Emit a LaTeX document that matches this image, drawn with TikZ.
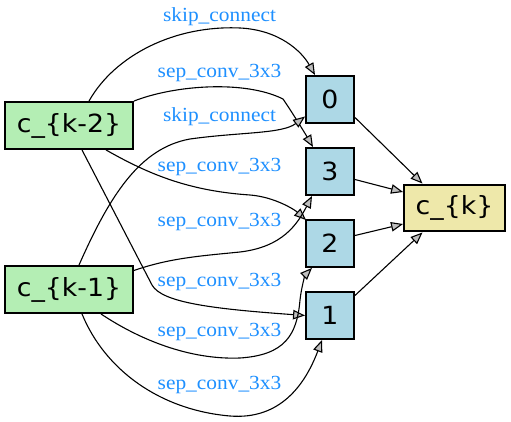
\documentclass[tikz,border=0pt]{standalone}
\usepackage{fontspec}
\setmainfont{Liberation Serif}
\newfontfamily\nodefont{DejaVu Sans}
\usetikzlibrary{arrows.meta}
\definecolor{dgreen}{RGB}{180,238,180}
\definecolor{lblue}{RGB}{173,216,230}
\definecolor{pgold}{RGB}{238,232,170}
\definecolor{dblue}{RGB}{30,144,255}
\definecolor{agray}{RGB}{190,190,190}
\newcommand{\ntxt}[1]{\scalebox{1.07}[1]{#1}}
\newcommand{\ltxt}[1]{\scalebox{1.07}[1]{#1}}
\begin{document}
\begin{tikzpicture}[x=1pt,y=-1pt,
  box/.style={draw=black, line width=2.4pt, inner sep=0pt, minimum height=46.5pt, font=\nodefont\fontsize{25}{25}\selectfont},
  inbox/.style={box, fill=dgreen, minimum width=127.5pt},
  opbox/.style={box, fill=lblue, minimum width=47.5pt},
  outbox/.style={box, fill=pgold, minimum width=100.5pt},
  lbl/.style={text=dblue, font=\fontsize{20}{20}\selectfont, anchor=base, inner sep=0pt},
  edge/.style={line width=1.1pt, -{Triangle[length=12pt,width=9.5pt,fill=agray]}},
]
\fill[white] (0,0) rectangle (511,422);
\useasboundingbox (0,0) rectangle (511,422);

\node[inbox]  (ck2) at (69,125.5) {\ntxt{c\_\{k-2\}}};
\node[inbox]  (ck1) at (69,289.5) {\ntxt{c\_\{k-1\}}};
\node[opbox]  (n0) at (330,99.5) {\ntxt{0}};
\node[opbox]  (n3) at (330,171.5) {\ntxt{3}};
\node[opbox]  (n2) at (330,243.5) {\ntxt{2}};
\node[opbox]  (n1) at (330,315.5) {\ntxt{1}};
\node[outbox] (ck) at (454.5,208) {\ntxt{c\_\{k\}}};

\draw[edge] ([xshift=20pt]ck2.north) .. controls (115,55) and (175,25) .. (240,28) .. controls (280,30) and (302,52) .. ([xshift=-15pt]n0.north);
\draw[edge] (ck2.north east) .. controls (175,85) and (245,80) .. (283,99) .. controls (292,112) and (306,135) .. ([xshift=-17pt]n3.north);
\draw[edge] ([xshift=10pt]ck1.north) .. controls (110,195) and (140,148) .. (190,139) .. controls (240,132) and (282,134) .. ([yshift=-17pt]n0.west);
\draw[edge] ([xshift=37pt]ck2.south) .. controls (150,175) and (190,191) .. (250,195) .. controls (275,197) and (295,210) .. ([xshift=1pt,yshift=-1pt]n2.north west);
\draw[edge] ([yshift=19pt]ck1.east) .. controls (170,258) and (200,256) .. (240,252) .. controls (282,247) and (297,225) .. ([xshift=-18pt]n3.south);
\draw[edge] ([xshift=13pt]ck2.south) -- (152,285) .. controls (162,303) and (215,309) .. (n1.west);
\draw[edge] ([xshift=32pt]ck1.south) .. controls (140,340) and (190,360) .. (240,358) .. controls (285,355) and (297,335) .. (300,300) .. controls (302,283) and (306,274) .. ([xshift=-18pt]n2.south);
\draw[edge] ([xshift=13pt]ck1.south) .. controls (105,370) and (160,410) .. (230,416) .. controls (280,420) and (305,385) .. ([xshift=-8pt]n1.south);

\draw[edge] ([yshift=-18pt]n0.east) -- ([xshift=-32pt]ck.north);
\draw[edge] ([yshift=-8pt]n3.east) -- ([yshift=16pt]ck.west);
\draw[edge] ([yshift=8pt]n2.east) -- ([yshift=-16pt]ck.west);
\draw[edge] ([yshift=20pt]n1.east) -- ([xshift=-32pt]ck.south);

\node[lbl] (l1) at (219.5,22) {\ltxt{skip\_connect}};
\node[lbl] (l2) at (219.5,77.5) {\ltxt{sep\_conv\_3x3}};
\node[lbl] (l3) at (219.5,121.5) {\ltxt{skip\_connect}};
\node[lbl] (l4) at (219.5,171.5) {\ltxt{sep\_conv\_3x3}};
\node[lbl] (l5) at (219.5,226) {\ltxt{sep\_conv\_3x3}};
\node[lbl] (l6) at (219.5,286) {\ltxt{sep\_conv\_3x3}};
\node[lbl] (l7) at (219.5,336) {\ltxt{sep\_conv\_3x3}};
\node[lbl] (l8) at (219.5,389) {\ltxt{sep\_conv\_3x3}};
\end{tikzpicture}
\end{document}
